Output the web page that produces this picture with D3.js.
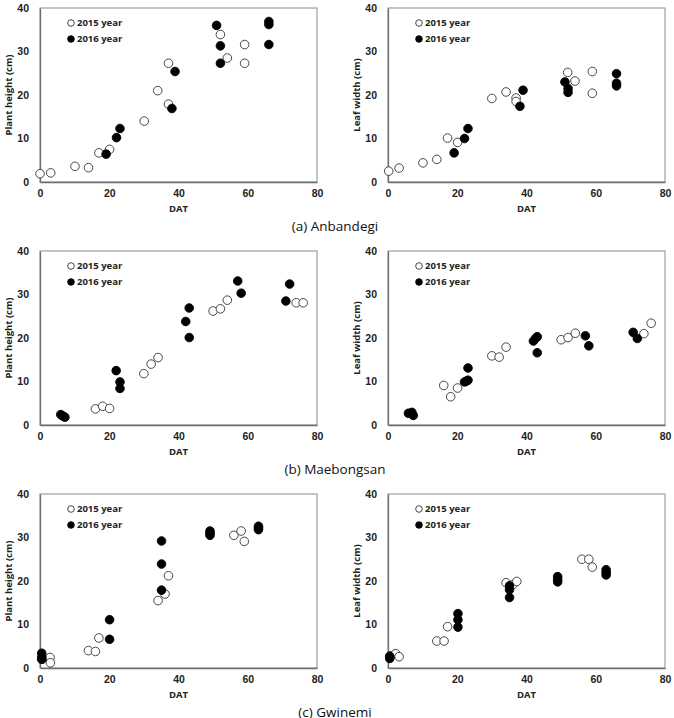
<!DOCTYPE html>
<html>
<head>
<meta charset="utf-8">
<script src="https://cdn.jsdelivr.net/npm/d3@7"></script>
<style>
  body { margin: 0; background: #fff; }
  svg { display: block; font-family: "Open Sans", "DejaVu Sans", sans-serif; }
</style>
</head>
<body>
<div id="chart"></div>
<script>
// [DAT, value] pairs
var anbHeight15 = [[0,1.9],[3.1,2.1],[10.1,3.6],[14,3.3],[17,6.7],[20.1,7.5],[30.1,14.0],[34,21.0],[37.1,27.3],[37.1,17.9],[52.1,33.9],[54.1,28.5],[59.1,31.6],[59.1,27.3]];
var anbHeight16 = [[19.1,6.4],[22.1,10.2],[23.1,12.3],[38.1,16.9],[39,25.4],[51,36.0],[52.1,31.3],[52.1,27.3],[66.1,36.9],[66.1,36.2],[66.1,31.6]];
var anbWidth15 = [[0.2,2.5],[3.2,3.2],[10.1,4.4],[14.1,5.2],[17.2,10.1],[20.1,9.1],[30,19.2],[34.1,20.7],[37,19.3],[37,18.5],[51.9,25.2],[54,23.2],[59,25.4],[59,20.4]];
var anbWidth16 = [[19.1,6.7],[22.1,10.0],[23.1,12.3],[38.1,17.4],[39,21.1],[51.1,23.0],[52,21.5],[52,20.6],[66,24.9],[66,22.7],[66,22.1]];

var maeHeight15 = [[16,3.7],[18.1,4.3],[20.1,3.8],[30,11.8],[32.1,14.0],[34.1,15.5],[50,26.2],[52.1,26.7],[54.1,28.7],[74,28.1],[76,28.1]];
var maeHeight16 = [[6,2.4],[6.5,2.1],[7.2,1.8],[22,12.5],[23.1,9.9],[23.1,8.4],[42.1,23.8],[43.1,26.9],[43.1,20.1],[57.1,33.1],[58.1,30.3],[71,28.5],[72.1,32.4]];
var maeWidth15 = [[16.1,9.1],[18.1,6.5],[20.1,8.5],[30,15.9],[32.1,15.6],[34.1,17.9],[50,19.6],[52,20.1],[54.1,21.1],[73.9,21.0],[76,23.4]];
var maeWidth16 = [[5.9,2.7],[6.9,2.9],[7.3,2.2],[22.1,9.9],[22.7,10.1],[23.1,10.3],[23.1,13.1],[42,19.3],[42.7,20.0],[43.1,20.3],[43.1,16.6],[57,20.5],[58,18.2],[70.8,21.3],[72,19.9]];

var gwiHeight15 = [[0.6,2.0],[2.9,2.4],[3.0,1.2],[14,4.0],[16,3.8],[17,6.9],[34.1,15.5],[36.1,17.0],[37.1,21.2],[56,30.5],[58.1,31.5],[59,29.1]];
var gwiHeight16 = [[0.5,3.4],[0.5,2.4],[0.5,2.0],[20.1,11.1],[20.1,6.6],[35.1,29.2],[35.1,23.9],[35.1,17.9],[49.1,31.5],[49.1,31.0],[49.1,30.5],[63.1,32.6],[63.1,32.2],[63.1,31.8]];
var gwiWidth15 = [[0.7,2.8],[2.2,3.3],[3.2,2.6],[14.1,6.2],[16.2,6.2],[17.2,9.5],[34.1,19.6],[36.1,19.2],[37.2,19.9],[56,25.0],[58,25.0],[59,23.2]];
var gwiWidth16 = [[0.5,2.7],[0.5,2.2],[20.2,12.5],[20.2,11.1],[20.2,9.4],[35.1,18.9],[35.1,18.0],[35.1,16.2],[49,21.0],[49,20.4],[49,19.8],[63,22.6],[63,22.0],[63,21.4]];

var xTicks = [0, 20, 40, 60, 80];
var yTicks = [0, 10, 20, 30, 40];
var seriesNames = ["2015 year", "2016 year"];
var captions = ["(a) Anbandegi", "(b) Maebongsan", "(c) Gwinemi"];
var yTitles = ["Plant height (cm)", "Leaf width (cm)"];

var panels = [
  [anbHeight15, anbHeight16], [anbWidth15, anbWidth16],
  [maeHeight15, maeHeight16], [maeWidth15, maeWidth16],
  [gwiHeight15, gwiHeight16], [gwiWidth15, gwiWidth16]
];

var W = 674, H = 718;
var colLeft = [40, 388], plotW = 277;
var rowTop = [8, 251, 494], plotH = 174;

var svg = d3.select("#chart").append("svg")
  .attr("width", W).attr("height", H);

panels.forEach(function (p, i) {
  var row = Math.floor(i / 2), col = i % 2;
  var x = d3.scaleLinear().domain([0, 80]).range([0, plotW]);
  var y = d3.scaleLinear().domain([0, 40]).range([plotH, 0]);

  var g = svg.append("g")
    .attr("transform", "translate(" + colLeft[col] + "," + rowTop[row] + ")");

  // frame
  g.append("rect")
    .attr("width", plotW).attr("height", plotH)
    .attr("fill", "none").attr("stroke", "#8c8c8c").attr("stroke-width", 1);

  var xAxis = g.append("g")
    .attr("transform", "translate(0," + plotH + ")")
    .call(d3.axisBottom(x).tickValues(xTicks).tickSize(0).tickPadding(8));
  var yAxis = g.append("g")
    .call(d3.axisLeft(y).tickValues(yTicks).tickSize(0).tickPadding(11));
  [xAxis, yAxis].forEach(function (a) {
    a.select(".domain").attr("stroke", "#6e6e6e").attr("stroke-width", 1.3);
    a.selectAll("text")
      .style("font-size", "10.5px").style("font-weight", "bold").attr("fill", "#222");
  });

  g.append("text")
    .attr("x", plotW / 2).attr("y", plotH + 30)
    .attr("text-anchor", "middle")
    .style("font-size", "9.5px").style("font-weight", "bold").attr("fill", "#222")
    .text("DAT");

  g.append("text")
    .attr("transform", "translate(" + (-31) + "," + (plotH / 2) + ") rotate(-90)")
    .attr("text-anchor", "middle").attr("dy", "0.35em")
    .style("font-size", "9.5px").style("font-weight", "bold").attr("fill", "#222")
    .text(yTitles[col]);

  // 2015 open, 2016 filled
  p.forEach(function (s, k) {
    g.selectAll(".pt" + k)
      .data(s)
      .enter().append("circle")
      .attr("class", "pt" + k)
      .attr("cx", function (d) { return x(d[0]); })
      .attr("cy", function (d) { return y(d[1]); })
      .attr("r", 4.3)
      .attr("fill", k === 0 ? "#fff" : "#000")
      .attr("stroke", k === 0 ? "#333" : "#000")
      .attr("stroke-width", 0.9);
  });

  // legend
  var lg = g.append("g").attr("transform", "translate(31,15)");
  seriesNames.forEach(function (name, k) {
    lg.append("circle")
      .attr("cx", 0).attr("cy", k * 16).attr("r", 3.3)
      .attr("fill", k === 0 ? "#fff" : "#000")
      .attr("stroke", k === 0 ? "#333" : "#000").attr("stroke-width", 0.9);
    lg.append("text")
      .attr("x", 6).attr("y", k * 16).attr("dy", "0.35em")
      .style("font-size", "9.5px").style("font-weight", "bold").attr("fill", "#222")
      .text(name);
  });
});

captions.forEach(function (c, r) {
  svg.append("text")
    .attr("x", 335).attr("y", rowTop[r] + plotH + 49)
    .attr("text-anchor", "middle")
    .style("font-size", "13.5px").attr("fill", "#111")
    .text(c);
});
</script>
</body>
</html>
